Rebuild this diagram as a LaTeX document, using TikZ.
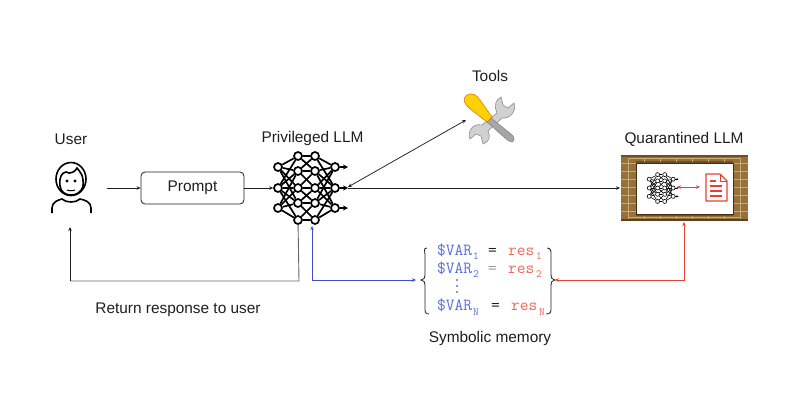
\documentclass[tikz,border=0pt]{standalone}
\usepackage{fontspec}
\setmainfont{Liberation Sans}
\usetikzlibrary{arrows.meta,calc}
\definecolor{inkc}{HTML}{1E1E1E}
\definecolor{bluec}{HTML}{3B4FD0}
\definecolor{redc}{HTML}{E8402E}
\definecolor{memblue}{HTML}{5A6FD8}
\definecolor{memred}{HTML}{F0665A}
\definecolor{brickc}{HTML}{96703A}
\definecolor{brickd}{HTML}{6E4E22}
\definecolor{mortarc}{HTML}{C9AB78}
\tikzset{
  lbl/.style={font=\fontsize{15.4}{17}\selectfont,text=inkc,inner sep=0pt},
  conn/.style={draw=inkc,line width=0.75pt,-{Stealth[length=4pt,width=3.5pt]}},
  connb/.style={draw=inkc,line width=0.75pt,{Stealth[length=4pt,width=3.5pt]}-{Stealth[length=4pt,width=3.5pt]}},
  retline/.style={draw=black!60,line width=0.9pt},
  blueconn/.style={draw=bluec,line width=0.8pt,-{Stealth[length=4pt,width=3.5pt]}},
  redconn/.style={draw=redc,line width=0.8pt,{Stealth[length=4pt,width=3.5pt]}-{Stealth[length=4pt,width=3.5pt]}},
  promptbox/.style={draw=inkc,line width=0.8pt,rounded corners=4pt,minimum width=103pt,minimum height=32pt,inner sep=0pt,font=\fontsize{15.4}{17}\selectfont,text=inkc},
  memtext/.style={font=\ttfamily\fontsize{17}{17}\selectfont,inner sep=0pt,anchor=base west},
  memsub/.style={font=\ttfamily\fontsize{11}{11}\selectfont,inner sep=0pt,anchor=base west},
}
% #1 prefix, #2 x, #3 y, #4 scale, #5 line width, #6 circle diameter
\newcommand{\netdraw}[6]{%
  \begin{scope}[shift={(#2,#3)},every node/.style={}]
    \foreach \nm/\dx/\dy in {a1/-21/-21,a2/-21/0,a3/-21/20,
      b1/-1/-32,b2/-1/-17,b3/-1/0,b4/-1/15,b5/-1/32,
      c1/16/-32,c2/16/-17,c3/16/0,c4/16/15,c5/16/32,
      d1/36/-21,d2/36/0,d3/36/20}{
      \node[circle,draw=black,line width=#5,minimum size=#6,inner sep=0pt] (#1\nm) at ({\dx*#4},{\dy*#4}) {};
    }
    \foreach \i/\j in {1/1,1/2,1/3,1/4,2/1,2/2,2/3,2/4,2/5,3/2,3/3,3/4,3/5}{
      \draw[line width=#5] (#1a\i) -- (#1b\j);
      \draw[line width=#5] (#1c\j) -- (#1d\i);
    }
    \foreach \i/\j in {1/1,1/2,2/1,2/2,2/3,3/2,3/3,3/4,4/3,4/4,4/5,5/4,5/5}{
      \draw[line width=#5] (#1b\i) -- (#1c\j);
    }
    \foreach \i in {1,2,3}{
      \coordinate (#1o\i) at ($(#1d\i)+({13*#4},0)$);
      \draw[line width=#5,-{Stealth[length={5*#4*1pt},width={5*#4*1pt}]}] (#1d\i) -- (#1o\i);
    }
  \end{scope}}
\begin{document}
\begin{tikzpicture}[x=1pt,y=-1pt]
\useasboundingbox (0,0) rectangle (800,400);
% labels
\node[lbl] (userlbl) at (71,139) {User};
\node[lbl] (privlbl) at (312.5,139) {Privileged LLM};
\node[lbl] (toolslbl) at (490,76) {Tools};
\node[lbl] (quarlbl) at (684,139) {Quarantined LLM};
\node[lbl] (retlbl) at (178,309.5) {Return response to user};
\node[lbl] (symlbl) at (490,338.5) {Symbolic memory};
% user icon
\begin{scope}[line width=1.6pt,draw=black]
  \draw (71,179) ellipse (15pt and 16.5pt);
  \draw (60,186) .. controls (59,176) and (62,173) .. (66,172) .. controls (70,175) and (76,171) .. (77,168) .. controls (80,172) and (84,175) .. (83,186) .. controls (81,193) and (76,195) .. (71,195) .. controls (65,195) and (61,192) .. (60,186) -- cycle;
  \fill (67,181) circle (1.6pt) (75,181) circle (1.6pt);
  \draw[line width=1pt] (67,190) .. controls (69,191) and (73,191) .. (75,190);
  \draw (52,213) -- (52,208) .. controls (52,202) and (58,200) .. (62,199) .. controls (66,203) and (76,203) .. (80,199) .. controls (85,200) and (91,202) .. (91,208) -- (91,213);
\end{scope}
\coordinate (userout) at (107,188);
\coordinate (userin) at (70,227);
% prompt
\node[promptbox] (prompt) at (192.5,188) {Prompt};
% privileged net
\netdraw{P}{299}{188}{1}{1.7pt}{8pt}
% tools
\coordinate (toolsin) at (466,120);
\begin{scope}
  % wrench
  \path[fill=black!18,draw=black!45,line width=0.6pt]
    (497,113) .. controls (494,106) and (495,100) .. (501,97)
    -- (503,105) -- (508,108) -- (514,103) .. controls (517,111) and (510,119) .. (502,118)
    -- (488,131) .. controls (491,137) and (489,142) .. (483,144)
    -- (481,136) -- (476,134) -- (470,139) .. controls (467,131) and (473,123) .. (482,125) -- cycle;
  % screwdriver shaft
  \path[fill=black!35,draw=black!50,line width=0.5pt] (487,122) -- (491,118) -- (511,134) .. controls (515,137) and (515,141) .. (512,142) .. controls (510,142) and (507,140) .. (505,138) -- cycle;
  % handle
  \path[fill=yellow!70!orange,draw=orange!85!black,line width=0.5pt]
    (467,95) .. controls (472,92) and (477,95) .. (480,100) -- (492,117) -- (487,122)
    -- (469,108) .. controls (464,104) and (462,98) .. (467,95) -- cycle;
\end{scope}
% quarantine wall
\fill[brickc] (621,155) rectangle (748,221);
% top and bottom bands
\fill[brickd] (621,155) rectangle (748,157);
\fill[brickd!85!black] (621,218.5) rectangle (748,221);
\fill[brickd] (636,161) rectangle (733,163);
\fill[brickd] (636,214) rectangle (733,216);
\draw[mortarc,line width=0.7pt] (628,158) -- (741,158) (628,217) -- (741,217);
\foreach \xx in {628,644,...,740}{
  \draw[mortarc,line width=0.7pt] (\xx,158) -- (\xx,162) (\xx,216) -- (\xx,219);
}
% left and right bands
\foreach \xa in {621,733}{
  \draw[mortarc,line width=0.7pt] ({\xa+7.5},158) -- ({\xa+7.5},218);
  \foreach \yy in {163,171,...,211}{
    \draw[mortarc,line width=0.7pt] (\xa,\yy) -- ({\xa+15},\yy);
  }
}
\node[draw=brickd!60!black,fill=white,line width=0.6pt,minimum width=97pt,minimum height=51pt,inner sep=0pt] (wallin) at (684.5,188.5) {};
\coordinate (wallw) at (620,188);
\coordinate (walls) at (684,222);
% small net
\netdraw{Q}{658}{188}{0.42}{0.6pt}{4pt}
% document
\node[inner sep=0pt,minimum width=21pt,minimum height=27pt] (doc) at (716.5,187.5) {};
\draw[redc,line width=1.2pt,line join=round] (706,174) -- (720,174) -- (727,181) -- (727,201) -- (706,201) -- cycle;
\draw[redc,line width=1pt,line join=round] (720,174) -- (720,181) -- (727,181);
\foreach \yy/\xb in {181/716,186/722,191/722,196/722}{\draw[redc,line width=1.1pt] (710,\yy) -- (\xb,\yy);}
\draw[redconn,line width=1pt] (677,187) -- (700,187);
% memory
\node[memtext,text=memblue] (v1) at (437,255) {\$VAR};
\node[memsub,text=memblue] at (473,259) {1};
\node[memtext,text=inkc] (e1) at (488,255) {=};
\node[memtext,text=memred] (r1) at (508,255) {res};
\node[memsub,text=memred] at (536,259) {1};
\node[memtext,text=memblue] (v2) at (437,273) {\$VAR};
\node[memsub,text=memblue] at (473,277) {2};
\node[memtext,text=black!40] (e2) at (488,273) {=};
\node[memtext,text=memred] (r2) at (508,273) {res};
\node[memsub,text=memred] at (536,277) {2};
\fill[memblue] (457,280) circle (1.1pt) (457,286) circle (1.1pt) (457,292) circle (1.1pt);
\node[memtext,text=memblue] (v3) at (437,310) {\$VAR};
\node[memsub,text=memblue] at (473,315) {N};
\node[memtext,text=inkc] (e3) at (491,310) {=};
\node[memtext,text=memred] (r3) at (511,310) {res};
\node[memsub,text=memred] at (539,315) {N};
% braces
\draw[inkc,line width=0.8pt] (427,248) .. controls (423,248) and (425,251) .. (425,255) -- (425,274) .. controls (425,278) and (424,280) .. (421,280) .. controls (424,280) and (425,282) .. (425,286) -- (425,307) .. controls (425,312) and (425,314) .. (429,314);
\draw[inkc,line width=0.8pt] (547,248) .. controls (551,248) and (551,251) .. (551,255) -- (551,274) .. controls (551,278) and (552,280) .. (555,280) .. controls (552,280) and (551,282) .. (551,286) -- (551,307) .. controls (551,312) and (551,314) .. (546,314);
\coordinate (meml) at (416,280);
\coordinate (memr) at (555,280);
% connectors
\draw[conn] (userout) -- (prompt.west);
\draw[conn] (prompt.east) -- (Pa2);
\draw[retline] (Pb5) -- (299,281) -- (70,281);
\draw[conn] (70,281) -- (userin);
\coordinate (pblue) at (312,226);
\draw[blueconn] (312,280) -- (pblue);
\draw[blueconn] (312,280) -- (meml);
\draw[connb] ($(Po2)+(0,-1)$) -- (toolsin);
\draw[conn] (Po2) -- (wallw);
\draw[redconn] (memr) -- (684,280) -- (walls);
\end{tikzpicture}
\end{document}
